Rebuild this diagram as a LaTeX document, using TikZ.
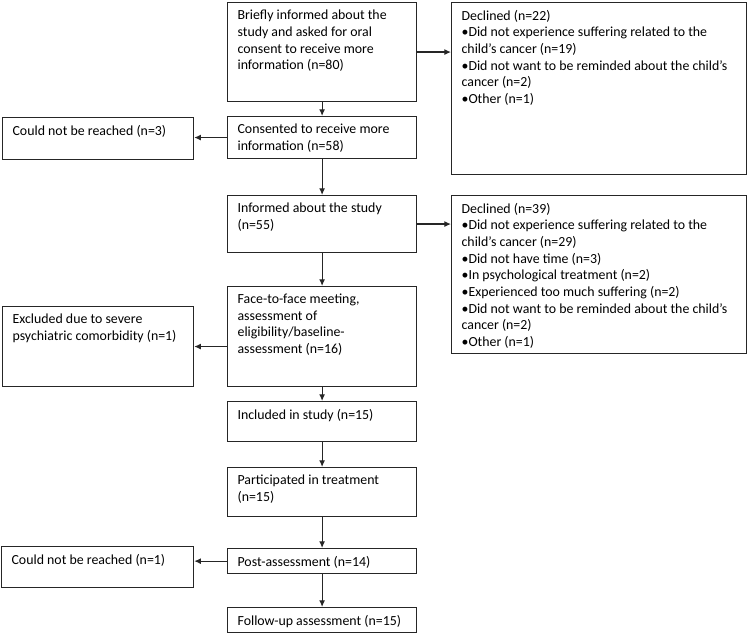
\documentclass[tikz,border=0pt]{standalone}
\usepackage{fontspec}
\setmainfont{Carlito}
\usetikzlibrary{arrows.meta}
\newlength{\pxu}
\setlength{\pxu}{0.75pt}
\newcommand{\boxtext}[3]{\parbox[t][\dimexpr#2\pxu-12pt\relax][t]{\dimexpr#1\pxu-15pt\relax}{#3}}

\begin{document}
\begin{tikzpicture}[x=0.75pt, y=-0.75pt, line width=0.9pt,
        >={Latex[length=5pt,width=4.5pt]},
        box/.style={draw=black!85, anchor=north west, inner xsep=7.5pt, inner ysep=5.6pt, font=\fontsize{10.4}{12.5}\selectfont},
        arr/.style={->, draw=black!85}]
        \useasboundingbox (0,0) rectangle (748,634);
        \node[box] (inform) at (227,2) {\boxtext{189}{100}{Briefly informed about the\\study and asked for oral\\consent to receive more\\information (n=80)}};
        \node[box] (consent) at (227,116) {\boxtext{189}{43}{Consented to receive more\\information (n=58)}};
        \node[box] (informed) at (227,195) {\boxtext{189}{58}{Informed about the study\\(n=55)}};
        \node[box] (meeting) at (227,286) {\boxtext{189}{101}{Face-to-face meeting,\\assessment of\\eligibility/baseline-\\assessment (n=16)}};
        \node[box] (included) at (227,401) {\boxtext{189}{41}{Included in study (n=15)}};
        \node[box] (treat) at (227,467) {\boxtext{189}{50}{Participated in treatment\\(n=15)}};
        \node[box] (post) at (227,548) {\boxtext{189}{26}{Post-assessment (n=14)}};
        \node[box] (follow) at (227,607) {\boxtext{189}{26}{Follow-up assessment (n=15)}};
        \node[box] (decl1) at (451,2) {\boxtext{295}{173}{Declined (n=22)\\•Did not experience suffering related to the\\child’s cancer (n=19)\\•Did not want to be reminded about the child’s\\cancer (n=2)\\•Other (n=1)}};
        \node[box] (decl2) at (451,195) {\boxtext{295}{159}{Declined (n=39)\\•Did not experience suffering related to the\\child’s cancer (n=29)\\•Did not have time (n=3)\\•In psychological treatment (n=2)\\•Experienced too much suffering (n=2)\\•Did not want to be reminded about the child’s\\cancer (n=2)\\•Other (n=1)}};
        \node[box] (lost1) at (2,117) {\boxtext{191}{43}{Could not be reached (n=3)}};
        \node[box] (excl) at (2,306) {\boxtext{191}{81}{Excluded due to severe\\psychiatric comorbidity (n=1)}};
        \node[box] (lost2) at (1,546) {\boxtext{192}{42}{Could not be reached (n=1)}};
        \draw[arr] (inform.south) -- (consent.north);
        \draw[arr] (consent.south) -- (informed.north);
        \draw[arr] (informed.south) -- (meeting.north);
        \draw[arr] (meeting.south) -- (included.north);
        \draw[arr] (included.south) -- (treat.north);
        \draw[arr] (treat.south) -- (post.north);
        \draw[arr] (post.south) -- (follow.north);
        \draw[arr] (inform.east) -- (inform.east -| decl1.west);
        \draw[arr] (informed.east) -- (informed.east -| decl2.west);
        \draw[arr] (consent.west) -- (consent.west -| lost1.east);
        \draw[arr] (meeting.west |- excl.east) -- (excl.east);
        \draw[arr] (post.west) -- (post.west -| lost2.east);
\end{tikzpicture}
\end{document}
